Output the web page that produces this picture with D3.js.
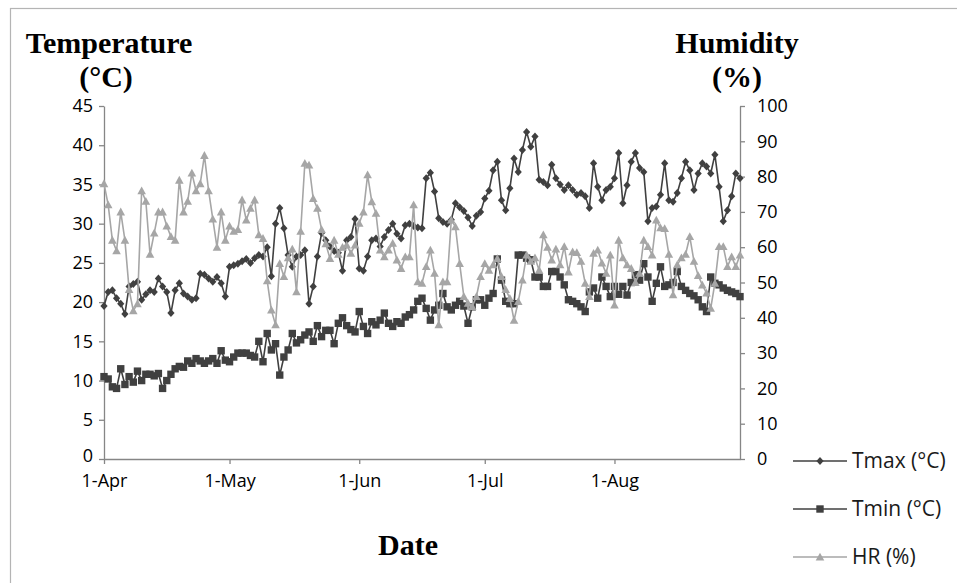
<!DOCTYPE html>
<html><head><meta charset="utf-8">
<script src="https://cdn.jsdelivr.net/npm/d3@7"></script>
<style>body{margin:0;background:#fff} svg{display:block}</style>
</head><body>
<svg id="c" width="957" height="583"></svg>
<script>
// ---- data (daily, 1 Apr – 31 Aug) ----
const startDate = "2014-04-01";
const tmax = [19.5,21.3,21.5,20.5,19.8,18.5,22.0,22.3,22.6,20.3,
 21.0,21.5,21.3,23.0,22.0,21.3,18.6,21.5,22.4,21.1,
 20.7,20.3,20.5,23.6,23.5,23.0,22.6,23.2,22.4,20.7,
 24.5,24.7,24.9,25.2,25.5,25.0,25.6,26.0,25.8,27.0,
 23.3,30.0,32.0,29.4,26.0,24.5,25.8,26.0,26.6,19.8,
 22.0,25.8,28.8,27.9,27.1,26.5,26.3,24.0,27.9,28.3,
 30.6,24.3,24.0,25.8,27.9,28.1,27.1,28.3,29.2,30.0,
 28.7,28.1,29.8,30.0,29.7,29.5,29.4,35.8,36.5,34.1,
 30.7,30.2,30.0,30.5,32.6,32.1,31.6,30.8,29.7,31.0,
 31.5,33.2,34.2,36.8,37.9,33.0,31.7,34.5,38.3,36.6,
 39.4,41.7,39.8,41.1,35.6,35.3,34.9,37.5,35.8,35.0,
 34.3,34.9,34.3,33.7,33.9,33.5,32.0,37.7,34.7,33.0,
 34.3,34.7,35.8,39.0,32.6,34.9,37.9,39.0,37.1,36.6,
 30.3,32.0,32.2,33.7,37.7,33.0,32.8,33.9,35.8,37.9,
 36.8,34.3,36.4,37.7,37.3,36.4,38.8,34.7,30.3,31.7,
 33.5,36.4,35.8];
const tmin = [10.5,10.2,9.2,9.0,11.5,9.5,10.5,9.8,11.2,10.0,
 10.8,10.8,10.6,10.9,9.0,10.0,10.8,11.5,11.8,11.7,
 12.5,12.2,12.8,12.5,12.2,12.5,12.8,12.2,13.8,12.6,
 12.4,
 13.0,13.5,13.5,13.5,13.2,13.0,15.0,12.4,16.0,13.9,
 14.7,10.7,13.0,13.9,16.0,14.8,15.2,15.8,16.2,15.0,
 17.0,15.6,16.4,16.4,14.7,17.3,18.0,17.0,16.5,16.2,
 18.8,
 16.9,16.0,17.5,17.1,17.7,18.6,17.3,16.9,17.5,17.3,
 18.1,18.4,19.0,20.1,20.5,19.2,17.7,19.0,19.6,21.1,
 19.4,19.0,19.6,20.1,19.5,17.3,19.4,20.3,20.3,19.6,
 20.5,
 21.1,25.5,22.8,20.1,19.8,19.8,26.0,26.0,25.6,25.4,
 23.2,23.2,22.0,22.0,23.9,23.9,23.2,22.2,20.3,20.1,
 19.8,19.4,18.8,21.3,21.8,20.5,23.2,22.0,20.7,22.0,
 21.0,22.0,20.9,22.5,23.5,22.8,24.9,23.2,20.1,22.4,
 24.5,22.0,22.2,22.5,23.9,22.0,21.5,21.1,20.8,20.3,
 19.4,18.8,23.2,22.4,22.2,21.8,21.5,21.3,21.1,20.7];
const hr = [78,72,62,59,70,62,48,42,44,76,
 73,58,64,70,70,66,63,62,79,70,
 73,81,76,78,86,76,68,60,70,62,
 66,
 64.5,65,73.4,67.7,71,73.4,63.5,62.5,50.5,42.2,
 38.0,55.4,51.7,57,59.5,47.4,64.5,83.8,83.3,73.8,
 71,65,61,56.8,62,58,60,60.6,58.3,60.6,
 66.8,
 70,80.5,72.9,69.6,59.2,57.3,59.2,61.1,56.4,54.0,
 57.3,57.3,72.0,50.2,49.8,54.5,59.2,52.6,38.0,50.2,
 50.2,67.7,65.8,55.4,46.0,44.1,43.2,46.0,51.7,55.4,
 53.5,
 55.0,56.8,51.7,48.0,45.5,39.3,44.6,50.7,57.8,56.0,
 57.0,53.5,63.5,60.0,56.4,59.5,55.0,60.2,53.0,58.7,
 58.5,56.0,49.8,46.0,58.3,59.2,55.5,52.6,57.8,43.6,
 62.0,57.0,55.0,54.0,50.0,52.6,62.0,60.2,57.8,67.7,
 65.5,65.3,58.0,46.5,55.0,57.0,58.0,63.0,56.0,52.0,
 49.3,47.0,42.7,49.8,60.2,60.2,54.5,57.3,54.5,57.8];
const xTickDates = ["2014-04-01","2014-05-01","2014-06-01","2014-07-01","2014-08-01"];
const xTickLabels = ["1-Apr","1-May","1-Jun","1-Jul","1-Aug"];
const leftTicks = [0,5,10,15,20,25,30,35,40,45];
const rightTicks = [0,10,20,30,40,50,60,70,80,90,100];
const seriesNames = ["Tmax (°C)","Tmin (°C)","HR (%)"];

// ---- drawing ----
const svg = d3.select("#c");
const parse = d3.timeParse("%Y-%m-%d");
const t0 = parse(startDate);
const dates = tmax.map((_, i) => d3.timeDay.offset(t0, i));
const x = d3.scaleTime().domain([t0, dates[dates.length - 1]]).range([104, 740]);
const yL = d3.scaleLinear().domain([0, 45]).range([459, 106]);
const yR = d3.scaleLinear().domain([0, 100]).range([459, 106]);

const AX = "#868686", DARK = "#404040", LIGHT = "#a6a6a6";
const tickFont = "'Open Sans', sans-serif";

svg.append("rect").attr("x", 10.5).attr("y", 8.5).attr("width", 980).attr("height", 620)
  .attr("fill", "#fff").attr("stroke", "#b4b4b4").attr("stroke-width", 1.2);

function styleAxis(g) {
  g.select(".domain").attr("stroke", AX).attr("stroke-width", 1.3);
  g.selectAll(".tick line").attr("stroke", AX).attr("stroke-width", 1.3);
  g.selectAll(".tick text").attr("fill", "#000").style("font-family", tickFont).style("font-size", "18px");
}

const gL = svg.append("g").attr("transform", "translate(104,0)")
  .call(d3.axisLeft(yL).tickValues(leftTicks).tickSizeInner(5).tickSizeOuter(0).tickPadding(6));
styleAxis(gL);
// lift the bottom-most left label slightly so it clears the first date label
gL.selectAll(".tick text").filter(d => d === 0).attr("dy", "0.15em");
const gR = svg.append("g").attr("transform", "translate(740,0)")
  .call(d3.axisRight(yR).tickValues(rightTicks).tickSizeInner(5).tickSizeOuter(0).tickPadding(12));
styleAxis(gR);
const gX = svg.append("g").attr("transform", "translate(0,459)")
  .call(d3.axisBottom(x).tickValues(xTickDates.map(parse)).tickFormat((d, i) => xTickLabels[i])
    .tickSizeInner(5).tickSizeOuter(0).tickPadding(10));
styleAxis(gX);

// series
const series = [
  {vals: tmax, y: yL, color: DARK, shape: "M0,-4L3.6,0L0,4L-3.6,0Z"},
  {vals: tmin, y: yL, color: DARK, shape: "M-3.7,-3.7h7.4v7.4h-7.4Z"},
  {vals: hr,   y: yR, color: LIGHT, shape: "M0,-4.3L4.3,3.5L-4.3,3.5Z"}
];
series.forEach(s => {
  const line = d3.line().x((d, i) => x(dates[i])).y(d => s.y(d));
  svg.append("path").datum(s.vals).attr("d", line).attr("fill", "none")
    .attr("stroke", s.color).attr("stroke-width", 1.6).attr("stroke-linejoin", "round");
  svg.append("g").selectAll("path").data(s.vals).join("path")
    .attr("d", s.shape)
    .attr("transform", (d, i) => `translate(${x(dates[i])},${s.y(d)})`)
    .attr("fill", s.color);
});

// titles
const serif = "'Liberation Serif','Times New Roman',serif";
function title(txt, cx, cy) {
  svg.append("text").attr("x", cx).attr("y", cy).attr("text-anchor", "middle")
    .style("font-family", serif).style("font-weight", "bold").style("font-size", "30px")
    .attr("fill", "#000").text(txt);
}
title("Temperature", 109, 53);
title("(°C)", 106, 87);
title("Humidity", 737, 53);
title("(%)", 737, 87);
title("Date", 408, 555);

// legend
const legY = [461, 509, 557];
series.forEach((s, i) => {
  const g = svg.append("g").attr("transform", `translate(0,${legY[i]})`);
  g.append("line").attr("x1", 793).attr("x2", 847).attr("stroke", s.color).attr("stroke-width", 1.6);
  g.append("path").attr("d", s.shape).attr("transform", "translate(820,0)").attr("fill", s.color);
  g.append("text").attr("x", 852).attr("y", 0).attr("dy", "0.35em")
    .style("font-family", tickFont).style("font-size", "21px").attr("fill", "#1a1a1a")
    .text(seriesNames[i]);
});
</script>
</body></html>
